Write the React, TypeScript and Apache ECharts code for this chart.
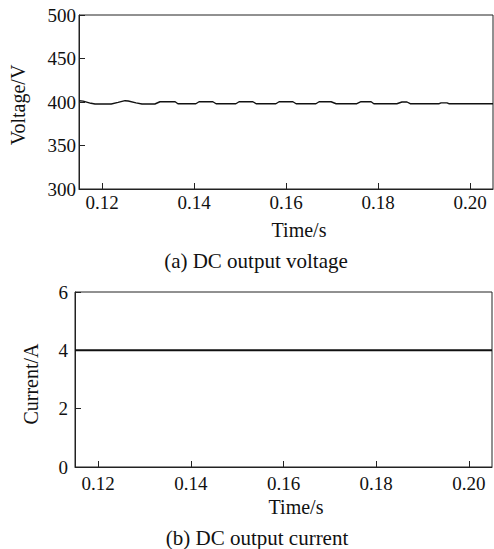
import React, { useEffect, useRef } from "react";
import * as echarts from "echarts";

const xTicks = [0.12, 0.14, 0.16, 0.18, 0.2];
const timeV = [
  0.115, 0.1159, 0.1176, 0.1185, 0.122, 0.1235, 0.125, 0.1257, 0.1274, 0.1287,
  0.1315, 0.1326, 0.1359, 0.1365, 0.1404, 0.1411, 0.1441, 0.1448, 0.1491, 0.1498,
  0.1528, 0.1535, 0.1578, 0.1585, 0.1615, 0.1622, 0.1665, 0.1672, 0.1698, 0.1709,
  0.1754, 0.1763, 0.1785, 0.1791, 0.1841, 0.1852, 0.1863, 0.187, 0.1933, 0.1937,
  0.195, 0.1954, 0.205,
];
const voltage = [
  401.5, 401, 398.5, 397.7, 397.7, 399.5, 401.5, 401.2, 399, 397.7,
  397.7, 400.3, 400.3, 398, 398, 400.3, 400.3, 398, 398, 400.3,
  400.3, 398, 398, 400.3, 400.3, 398, 398, 400.3, 400.3, 398,
  398, 400.3, 400.3, 398, 398, 400, 400, 398, 398, 399,
  399, 398, 398,
];
const timeI = [0.115, 0.14, 0.16, 0.18, 0.205];
const current = [4, 4, 4, 4, 4];
const voltageTicks = [300, 350, 400, 450, 500];
const currentTicks = [0, 2, 4, 6];

const FONT = "'Liberation Serif', 'Times New Roman', serif";
const INK = "#111";

export default function App() {
  const ref = useRef<HTMLDivElement>(null);
  useEffect(() => {
    if (!ref.current) return;
    const chart = echarts.init(ref.current, null, { renderer: "svg" });
    const axisLine = { show: true, lineStyle: { color: "#222", width: 1 } };
    const xAxisBase = (gridIndex: number, margin: number) => ({
      type: "value",
      gridIndex,
      min: 0.115,
      max: 0.205,
      axisLine,
      axisTick: { show: true, inside: true, length: 6, customValues: xTicks, lineStyle: { color: "#222" } },
      axisLabel: {
        customValues: xTicks,
        formatter: (v: number) => v.toFixed(2),
        fontFamily: FONT,
        fontSize: 19,
        color: INK,
        margin,
      },
      splitLine: { show: false },
    });
    const txt = (x: number, y: number, text: string, size: number, rot = 0) => ({
      type: "text",
      x,
      y,
      rotation: rot,
      style: { text, fontFamily: FONT, fontSize: size, fill: INK, textAlign: "center", textVerticalAlign: "middle" },
    });
    chart.setOption({
      animation: false,
      backgroundColor: "#fff",
      grid: [
        { left: 79, top: 15, width: 414, height: 174, show: true, borderColor: "#222", borderWidth: 1 },
        { left: 75, top: 292, width: 417, height: 175, show: true, borderColor: "#222", borderWidth: 1 },
      ],
      xAxis: [xAxisBase(0, 4), xAxisBase(1, 7)],
      yAxis: [
        {
          type: "value",
          gridIndex: 0,
          min: voltageTicks[0],
          max: voltageTicks[voltageTicks.length - 1],
          interval: 50,
          axisLine,
          axisTick: { show: true, inside: true, length: 6, lineStyle: { color: "#222" } },
          axisLabel: { fontFamily: FONT, fontSize: 19, color: INK, margin: 3 },
          splitLine: { show: false },
        },
        {
          type: "value",
          gridIndex: 1,
          min: currentTicks[0],
          max: currentTicks[currentTicks.length - 1],
          interval: 2,
          axisLine,
          axisTick: { show: true, inside: true, length: 6, lineStyle: { color: "#222" } },
          axisLabel: { fontFamily: FONT, fontSize: 19, color: INK, margin: 7 },
          splitLine: { show: false },
        },
      ],
      series: [
        {
          type: "line",
          xAxisIndex: 0,
          yAxisIndex: 0,
          data: timeV.map((t, i) => [t, voltage[i]]),
          showSymbol: false,
          lineStyle: { color: "#111", width: 1.4 },
        },
        {
          type: "line",
          xAxisIndex: 1,
          yAxisIndex: 1,
          data: timeI.map((t, i) => [t, current[i]]),
          showSymbol: false,
          lineStyle: { color: "#111", width: 2 },
        },
      ],
      graphic: [
        txt(18, 105, "Voltage/V", 20, Math.PI / 2),
        txt(299, 230, "Time/s", 20),
        txt(256, 261, "(a) DC output voltage", 21),
        txt(31, 384, "Current/A", 20, Math.PI / 2),
        txt(296, 507, "Time/s", 20),
        txt(257, 538, "(b) DC output current", 21),
      ],
    });
    return () => chart.dispose();
  }, []);
  return <div ref={ref} style={{ position: "absolute", left: 0, top: 0, width: 494, height: 549 }} />;
}
